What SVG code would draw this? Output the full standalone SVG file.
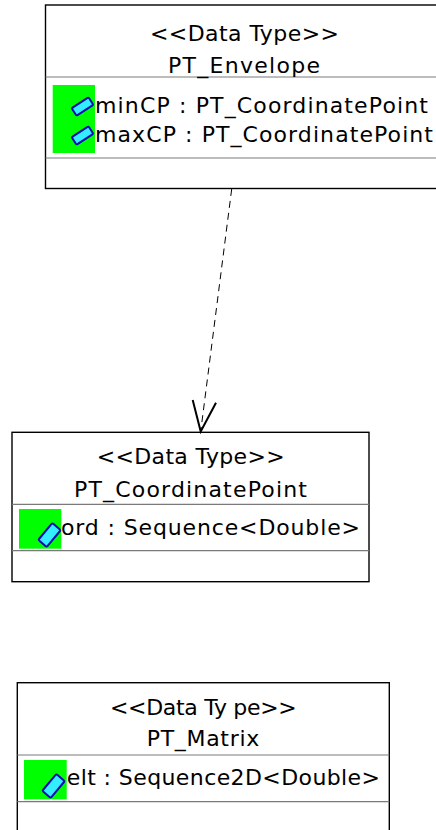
<svg xmlns="http://www.w3.org/2000/svg" xmlns:xlink="http://www.w3.org/1999/xlink" width="436" height="830" viewBox="0 0 436 830">
<style>
.box{fill:#ffffff;stroke:#000000;stroke-width:1.4}
.sep{stroke:#7a7a7a;stroke-width:1.2}
.t{font-family:"DejaVu Sans","Liberation Sans",sans-serif;font-size:22px;fill:#000000}
.hl{fill:#00ff00}
.dash{fill:none;stroke:#000000;stroke-width:1;stroke-dasharray:7,5}
.head{fill:none;stroke:#000000;stroke-width:2}
.ic{fill:#33eeff;stroke:#0a0ab4;stroke-width:2}
</style>
<rect width="436" height="830" fill="#ffffff"/>
<g id="PT_Envelope">
<rect class="box" x="45.5" y="5" width="400" height="183.5"/>
<line class="sep" x1="45.5" y1="77" x2="436" y2="77"/>
<line class="sep" x1="45.5" y1="158" x2="436" y2="158"/>
<text class="t" x="150" y="41" textLength="189" lengthAdjust="spacing">&lt;&lt;Data Type&gt;&gt;</text>
<text class="t" x="168" y="73" textLength="152" lengthAdjust="spacing">PT_Envelope</text>
<rect class="hl" x="52.7" y="85" width="42.3" height="68"/>
<rect class="ic" x="-10" y="-4.5" width="20" height="9" rx="1.5" transform="translate(82.5,106.5) rotate(-33)"/>
<rect class="ic" x="-10" y="-4.5" width="20" height="9" rx="1.5" transform="translate(82.5,135.5) rotate(-33)"/>
<text class="t" x="95" y="113" textLength="333" lengthAdjust="spacing">minCP : PT_CoordinatePoint</text>
<text class="t" x="95" y="142" textLength="338" lengthAdjust="spacing">maxCP : PT_CoordinatePoint</text>
</g>
<g id="PT_CoordinatePoint">
<rect class="box" x="12" y="432.3" width="357" height="149.4"/>
<line class="sep" x1="12" y1="504.3" x2="369" y2="504.3"/>
<line class="sep" x1="12" y1="550.7" x2="369" y2="550.7"/>
<text class="t" x="96.7" y="464" textLength="188" lengthAdjust="spacing">&lt;&lt;Data Type&gt;&gt;</text>
<text class="t" x="74" y="496.7" textLength="233" lengthAdjust="spacing">PT_CoordinatePoint</text>
<rect class="hl" x="19" y="509" width="42.3" height="39.7"/>
<rect class="ic" x="-11" y="-5.5" width="22" height="11" rx="1.5" transform="translate(49.5,535) rotate(-50)"/>
<text class="t" x="61" y="535" textLength="299" lengthAdjust="spacing">ord : Sequence&lt;Double&gt;</text>
</g>
<g id="PT_Matrix">
<rect class="box" x="17.3" y="682.7" width="372" height="170"/>
<line class="sep" x1="17.3" y1="755" x2="389.3" y2="755"/>
<line class="sep" x1="17.3" y1="801.7" x2="389.3" y2="801.7"/>
<text class="t" x="110" y="715" textLength="186.7" lengthAdjust="spacing">&lt;&lt;Data Ty pe&gt;&gt;</text>
<text class="t" x="146.7" y="746" textLength="112.6" lengthAdjust="spacing">PT_Matrix</text>
<rect class="hl" x="24" y="760" width="42.7" height="39.3"/>
<rect class="ic" x="-11" y="-5.5" width="22" height="11" rx="1.5" transform="translate(53.5,786) rotate(-50)"/>
<text class="t" x="66.7" y="785" textLength="313.3" lengthAdjust="spacing">elt : Sequence2D&lt;Double&gt;</text>
</g>
<g id="connectors">
<line class="dash" x1="231.7" y1="189" x2="200.7" y2="431.5"/>
<polyline class="head" points="192.7,400 200.7,431.5 216,402.7"/>
</g>
</svg>
